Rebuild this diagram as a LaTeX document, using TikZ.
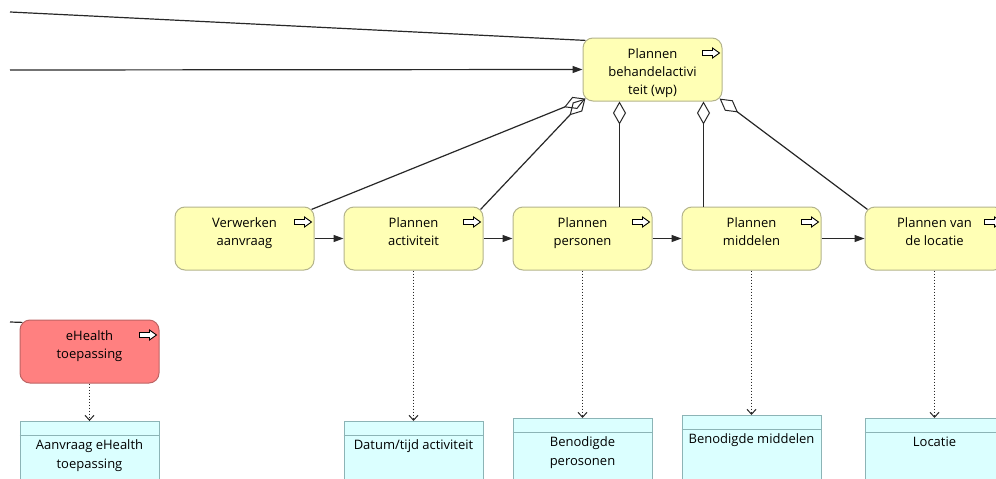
\documentclass[tikz,border=0pt]{standalone}
\usepackage{fontspec}
\setmainfont{Open Sans}
\usetikzlibrary{arrows.meta,calc}

\definecolor{bizfill}{RGB}{255,255,181}
\definecolor{bizline}{RGB}{180,180,140}
\definecolor{appfill}{RGB}{255,128,128}
\definecolor{appline}{RGB}{190,100,100}
\definecolor{datafill}{RGB}{219,255,255}
\definecolor{dataline}{RGB}{140,180,182}
\definecolor{conn}{RGB}{40,40,40}

% box contents: text starts at the top of the box
\newcommand\proctext[1]{\parbox[c][63pt][t]{135pt}{\fontsize{13}{18}\selectfont\centering\rule{0pt}{20pt}#1}}
\newcommand\datatext[1]{\parbox[c][70pt][t]{135pt}{\fontsize{13}{19}\selectfont\centering\rule{0pt}{28pt}#1}}

% process/event icon in the upper right corner of a box
\newcommand\evicon[1]{%
  \draw[evarrow] ($(#1.north east)+(-20,15.5)$) ++(0,-2.5) -- ++(10,0) -- ++(0,-2.5)
    -- ++(7,5) -- ++(-7,5) -- ++(0,-2.5) -- ++(-10,0) -- cycle;}

% header line of a data object
\newcommand\dataheader[1]{%
  \draw[dataline, line width=1pt] ($(#1.north west)+(0,14)$) -- ($(#1.north east)+(0,14)$);}

\tikzset{
  procbox/.style={draw=bizline, fill=bizfill, line width=1pt, rounded corners=10pt,
    inner sep=0pt, minimum width=139pt, minimum height=63pt},
  appbox/.style={procbox, draw=appline, fill=appfill},
  databox/.style={draw=dataline, fill=datafill, line width=1pt, inner sep=0pt,
    minimum width=139pt, minimum height=70pt, anchor=north},
  evarrow/.style={draw=black, fill=white, line width=0.9pt, line join=miter},
  trig/.style={draw=conn, line width=1.2pt, -{Triangle[length=10pt,width=7pt]}},
  plain/.style={draw=conn, line width=1.2pt},
  agg/.style={draw=conn, line width=1.2pt, {Diamond[open,length=23pt,width=13pt,line width=1pt]}-},
  access/.style={draw=conn, line width=1pt, dash pattern=on 1.5pt off 1.5pt,
    -{Straight Barb[length=5pt,width=9pt,line width=1pt]}},
}

\begin{document}
\begin{tikzpicture}[x=1pt,y=-1pt]
  \path[use as bounding box, fill=white] (0,0) rectangle (996,479);
  \clip (0,0) rectangle (996,479);

  % business processes
  \node[procbox] (top)  at (652.5,69.5)  {\proctext{Plannen\\behandelactivi\\teit (wp)}};
  \node[procbox] (verw) at (244.5,238.5) {\proctext{Verwerken\\aanvraag}};
  \node[procbox] (act)  at (413.5,238.5) {\proctext{Plannen\\activiteit}};
  \node[procbox] (pers) at (582.5,238.5) {\proctext{Plannen\\personen}};
  \node[procbox] (midd) at (751.5,238.5) {\proctext{Plannen\\middelen}};
  \node[procbox] (loc)  at (934.5,238.5) {\proctext{Plannen van\\de locatie}};

  % application
  \node[appbox] (app) at (89.5,351.5) {\proctext{eHealth\\toepassing}};

  \foreach \n in {top,verw,act,pers,midd,loc,app} {\evicon{\n}}

  % data objects
  \node[databox] (d1) at (89.5,421)  {\datatext{Aanvraag eHealth\\toepassing}};
  \node[databox] (d2) at (413.5,421) {\datatext{Datum/tijd activiteit}};
  \node[databox] (d3) at (582.5,418) {\datatext{Benodigde\\perosonen}};
  \node[databox] (d4) at (751.5,415) {\datatext{Benodigde middelen}};
  \node[databox] (d5) at (934.5,418) {\datatext{Locatie}};
  \foreach \n in {d1,d2,d3,d4,d5} {\dataheader{\n}}

  % incoming relations from the left
  \coordinate (in1) at (10,12);
  \coordinate (in2) at (10,70);
  \coordinate (in3) at (10,322);
  \draw[plain] (in1) -- ($(top.north west)+(2.9,2.9)$);
  \draw[trig]  (in2) -- (top.west);
  \draw[plain] (in3) -- ($(app.north west)+(2.9,2.9)$);

  % aggregation of the sub-processes
  \draw[agg] ($(top.south west)+(2.9,-2.9)$) -- ($(verw.north east)+(-2.9,2.9)$);
  \draw[agg] ($(top.south west)+(2.9,-2.9)$) -- ($(act.north east)+(-2.9,2.9)$);
  \draw[agg] ($(top.south)+(-33,0)$) -- ($(pers.north)+(37,0)$);
  \draw[agg] ($(top.south)+(51,0)$) -- ($(midd.north)+(-48,0)$);
  \draw[agg] ($(top.south east)+(-2.9,-2.9)$) -- ($(loc.north west)+(2.9,2.9)$);

  % triggering flow
  \draw[trig] (verw.east) -- (act.west);
  \draw[trig] (act.east)  -- (pers.west);
  \draw[trig] (pers.east) -- (midd.west);
  \draw[trig] (midd.east) -- (loc.west);

  % access to data
  \draw[access] (app.south)  -- (d1.north);
  \draw[access] (act.south)  -- (d2.north);
  \draw[access] (pers.south) -- (d3.north);
  \draw[access] (midd.south) -- (d4.north);
  \draw[access] (loc.south)  -- (d5.north);
\end{tikzpicture}
\end{document}
